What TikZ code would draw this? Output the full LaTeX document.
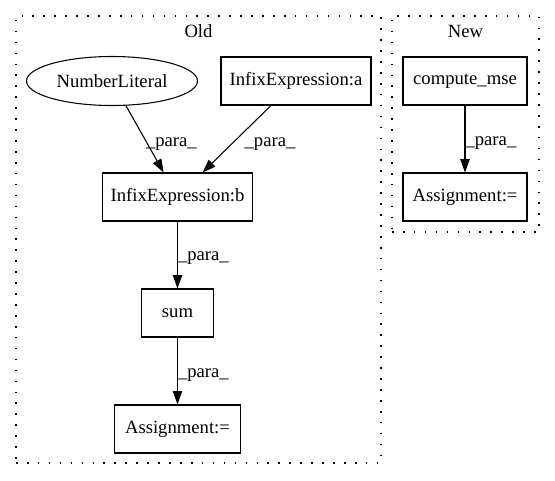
\documentclass[tikz,border=0pt]{standalone}
\usepackage{fontspec}
\setmainfont{Liberation Serif}
\usetikzlibrary{positioning, arrows.meta, shapes.geometric}

\begin{document}
\begin{tikzpicture}[x=0.75pt, y=-0.75pt, font=\fontsize{14}{16}\selectfont,
    box/.style={draw, rectangle, line width=0.8pt, minimum height=36pt, inner sep=0pt},
    oval/.style={draw, ellipse, line width=0.8pt, minimum height=36.75pt, inner sep=0pt},
    group/.style={draw, rectangle, line width=0.8pt, dash pattern=on 1.2pt off 7pt, inner sep=0pt},
    lbl/.style={anchor=west, inner sep=0pt},
    arr/.style={-{Triangle[length=10pt, width=7pt]}, line width=0.8pt}]
    \useasboundingbox (0,0) rectangle (555,480);

    % clusters
    \node[group, minimum width=273.75pt, minimum height=335.25pt] (old) at (198.5,239.5) {};
    \node[group, minimum width=110.25pt, minimum height=162pt] (new) at (465.5,124) {};
    \node (oldtitle) at (198.5,31) {Old};
    \node (newtitle) at (465.5,31) {New};

    % old
    \node[oval, minimum width=128.25pt] (numlit) at (112,81) {NumberLiteral};
    \node[box, minimum width=112.5pt] (infa) at (296,81) {InfixExpression:a};
    \node[box, minimum width=113pt] (infb) at (177.5,197) {InfixExpression:b};
    \node[box, minimum width=54pt] (sum) at (177.5,313) {sum};
    \node[box, minimum width=94.5pt] (asgold) at (177.5,429) {Assignment:=};

    % new
    \node[box, minimum width=93pt] (mse) at (465,81) {compute\_mse};
    \node[box, minimum width=93pt] (asgnew) at (465,197) {Assignment:=};

    \path[arr]
        (numlit) edge node[lbl, xshift=0.5pt, yshift=-4pt] {\_para\_} (infb)
        (infa) edge node[lbl, xshift=5.5pt, yshift=-4pt] {\_para\_} (infb)
        (infb) edge node[lbl, yshift=-2.5pt] {\_para\_} (sum)
        (sum) edge node[lbl, yshift=-3pt] {\_para\_} (asgold)
        (mse) edge node[lbl, yshift=-3pt] {\_para\_} (asgnew)
    ;

\end{tikzpicture}
\end{document}
